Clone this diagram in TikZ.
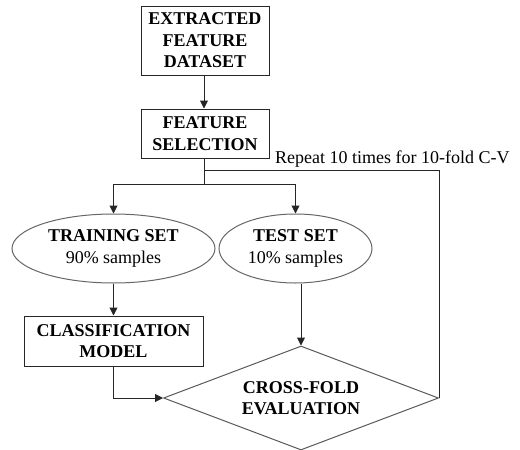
\documentclass[tikz,border=0pt]{standalone}
\usepackage{fontspec}
\setmainfont{Liberation Serif}
\usetikzlibrary{shapes.geometric,arrows.meta}
\begin{document}
\begin{tikzpicture}[x=1pt,y=-1pt,
  every node/.style={font=\fontsize{18}{21.5}\selectfont, align=center, inner sep=0pt},
  boxnode/.style={draw=black!85, line width=1pt, font=\fontsize{18}{21.5}\selectfont\bfseries},
  ellnode/.style={ellipse, draw=black!60, line width=1pt},
  dianode/.style={diamond, draw=black!65, line width=1pt, aspect=2.65, font=\fontsize{18}{21.5}\selectfont\bfseries},
  conn/.style={draw=black!85, line width=1pt},
  arr/.style={conn, -{Triangle[length=8pt,width=8pt]}}]
\useasboundingbox (0,0) rectangle (520,450);
\node[boxnode, minimum width=128, minimum height=69] (efd) at (205,40.5) {EXTRACTED\\FEATURE\\DATASET};
\node[boxnode, minimum width=128, minimum height=49] (fs) at (205,133.5) {FEATURE\\SELECTION};
\node[ellnode, minimum width=203, minimum height=69] (train) at (113.5,248.5) {\textbf{TRAINING SET}\\90\% samples};
\node[ellnode, minimum width=153, minimum height=69] (test) at (295.5,248.5) {\textbf{TEST SET}\\10\% samples};
\node[boxnode, minimum width=179, minimum height=50] (cls) at (113.5,341) {CLASSIFICATION\\MODEL};
\node[dianode, minimum width=275, minimum height=104] (eval) at (301,398) {CROSS-FOLD\\EVALUATION};
\node[anchor=base west] (rep) at (275,163.5) {Repeat 10 times for 10-fold C-V};
\coordinate (split) at (204,184);
\coordinate (jn) at (204,170);
\draw[arr] (efd.south -| 204,0) -- (fs.north -| 204,0);
\draw[conn] (fs.south -| split) -- (split);
\draw[arr] (split) -| (train.north);
\draw[arr] (split) -| (test.north);
\draw[conn] (eval.east) |- (jn);
\draw[arr] (train.south) -- (cls.north);
\draw[arr] (cls.south) |- (eval.west);
\draw[arr] (eval.north |- test.south) -- (eval.north);
\end{tikzpicture}
\end{document}
